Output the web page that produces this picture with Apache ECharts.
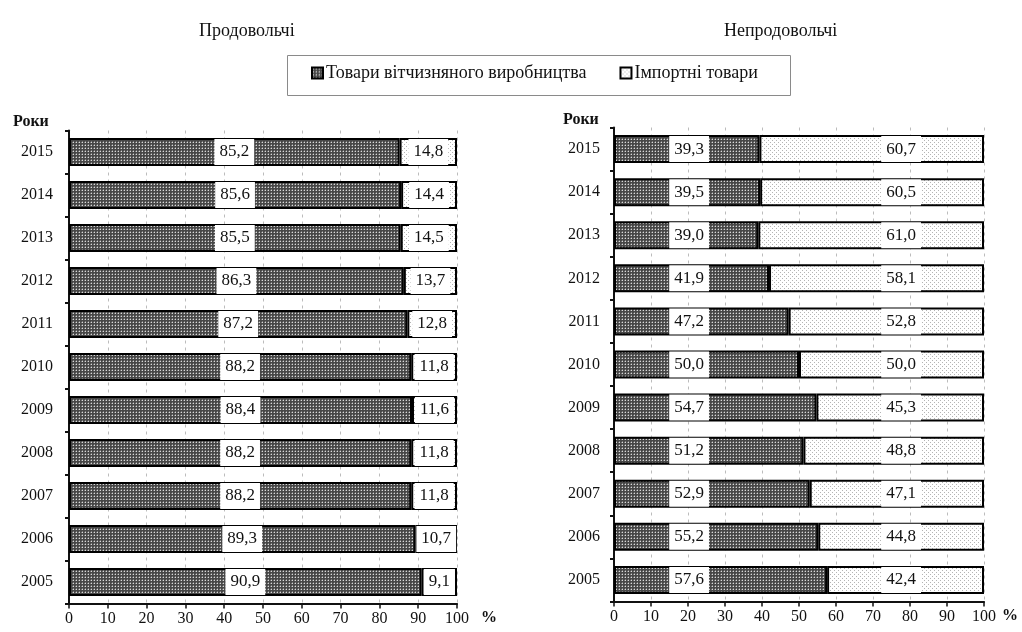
<!DOCTYPE html>
<html>
<head>
<meta charset="utf-8">
<script src="https://cdn.jsdelivr.net/npm/echarts@6/dist/echarts.min.js"></script>
<style>
  html, body { margin: 0; padding: 0; background: #fff; }
  #chart { width: 1022px; height: 632px; }
</style>
</head>
<body>
<div id="chart"></div>
<script>
// Years, bottom to top
const years = ['2005', '2006', '2007', '2008', '2009', '2010', '2011', '2012', '2013', '2014', '2015'];

// Food goods: share of domestic and imported products, %
const foodDomestic = [90.9, 89.3, 88.2, 88.2, 88.4, 88.2, 87.2, 86.3, 85.5, 85.6, 85.2];
const foodImport   = [9.1, 10.7, 11.8, 11.8, 11.6, 11.8, 12.8, 13.7, 14.5, 14.4, 14.8];

// Non-food goods: share of domestic and imported products, %
const nonFoodDomestic = [57.6, 55.2, 52.9, 51.2, 54.7, 50.0, 47.2, 41.9, 39.0, 39.5, 39.3];
const nonFoodImport   = [42.4, 44.8, 47.1, 48.8, 45.3, 50.0, 52.8, 58.1, 61.0, 60.5, 60.7];

const xTicks = [0, 10, 20, 30, 40, 50, 60, 70, 80, 90, 100];

const nameDomestic = 'Товари вітчизняного виробництва';
const nameImport = 'Імпортні товари';

const FONT = '"Liberation Serif", "DejaVu Serif", serif';
const INK = '#111';

// Fill textures
function makeTile(size, bg, dots) {
  const c = document.createElement('canvas');
  c.width = size; c.height = size;
  const g = c.getContext('2d');
  g.fillStyle = bg; g.fillRect(0, 0, size, size);
  dots.forEach(d => { g.fillStyle = d[2]; g.fillRect(d[0], d[1], 1, 1); });
  return c;
}
const darkTile = makeTile(3, '#474747', [[1, 1, '#d8d8d8'], [0, 1, '#7a7a7a'], [1, 0, '#7a7a7a']]);
const lightTile = makeTile(4, '#ffffff', [[0, 0, '#b4b4b4'], [2, 2, '#b4b4b4']]);
const darkFill = { image: darkTile, repeat: 'repeat' };
const lightFill = { image: lightTile, repeat: 'repeat' };

const fmt = v => v.toFixed(1).replace('.', ',');

const labelBox = {
  show: true,
  fontFamily: FONT,
  fontSize: 17,
  color: INK,
  backgroundColor: '#fff',
  padding: [1, 5],
  lineHeight: 24,
  formatter: p => fmt(p.value)
};

// Plot areas
const gridL = { left: 69, right: 565, top: 130.5, bottom: 28.5 };
const gridR = { left: 614, right: 38, top: 127.5, bottom: 30.5 };
const widthR = 1022 - gridR.left - gridR.right;
const pxR = widthR / 100;

// Labels of the right panel sit at fixed positions along the axis
const domAnchor = 20.3, impAnchor = 77.6;
const nonFoodDomData = nonFoodDomestic.map(v => ({
  value: v,
  label: { position: [domAnchor * pxR, '50%'], align: 'center', verticalAlign: 'middle' }
}));
const nonFoodImpData = nonFoodImport.map((v, i) => ({
  value: v,
  label: { position: [(impAnchor - nonFoodDomestic[i]) * pxR, '50%'], align: 'center', verticalAlign: 'middle' }
}));

function xAxis(gridIndex) {
  return {
    type: 'value', gridIndex, min: 0, max: 100, interval: 10,
    axisLine: { show: true, lineStyle: { color: INK, width: 2 } },
    axisTick: { show: true, length: 5, lineStyle: { color: INK, width: 1.5 } },
    axisLabel: { fontFamily: FONT, fontSize: 16, color: INK, margin: 7,
      formatter: v => xTicks.includes(v) ? String(v) : '' },
    splitLine: { show: true, lineStyle: { color: '#bcbcbc', type: [3, 4], width: 1 } }
  };
}
function yAxis(gridIndex, margin) {
  return {
    type: 'category', gridIndex, data: years,
    axisLine: { show: true, lineStyle: { color: INK, width: 2 } },
    axisTick: { show: true, length: 4, lineStyle: { color: INK, width: 2 } },
    axisLabel: { fontFamily: FONT, fontSize: 16, color: INK, margin }
  };
}

const barStyle = fill => ({ color: fill, borderColor: '#000', borderWidth: 2 });

const option = {
  backgroundColor: '#fff',
  animation: false,
  title: [
    { text: 'Продовольчі', left: 199, top: 22, padding: 0,
      textStyle: { fontFamily: FONT, fontSize: 18, fontWeight: 'normal', color: INK } },
    { text: 'Непродовольчі', left: 724, top: 22, padding: 0,
      textStyle: { fontFamily: FONT, fontSize: 18, fontWeight: 'normal', color: INK } },
    { text: 'Роки', left: 13, top: 114, padding: 0,
      textStyle: { fontFamily: FONT, fontSize: 16, fontWeight: 'bold', color: INK } },
    { text: 'Роки', left: 563, top: 112, padding: 0,
      textStyle: { fontFamily: FONT, fontSize: 16, fontWeight: 'bold', color: INK } },
    { text: '%', left: 481, top: 610, padding: 0,
      textStyle: { fontFamily: FONT, fontSize: 16, fontWeight: 'bold', color: INK } },
    { text: '%', left: 1002, top: 608, padding: 0,
      textStyle: { fontFamily: FONT, fontSize: 16, fontWeight: 'bold', color: INK } }
  ],
  // frame around the legend
  graphic: [{
    type: 'rect', z: 0,
    shape: { x: 287.5, y: 55.5, width: 503, height: 40 },
    style: { fill: 'none', stroke: '#8a8a8a', lineWidth: 1 }
  }],
  legend: {
    left: 306, top: 59,
    padding: [5, 5],
    itemWidth: 11, itemHeight: 11, itemGap: 33,
    icon: 'rect', selectedMode: false,
    data: [nameDomestic, nameImport],
    textStyle: { fontFamily: FONT, fontSize: 18, color: INK, padding: [0, 0, 0, -2] }
  },
  grid: [gridL, gridR],
  xAxis: [xAxis(0), xAxis(1)],
  yAxis: [yAxis(0, 16), yAxis(1, 14)],
  series: [
    { name: nameDomestic, type: 'bar', xAxisIndex: 0, yAxisIndex: 0, stack: 'food',
      barWidth: 28, itemStyle: barStyle(darkFill),
      label: Object.assign({}, labelBox, { position: 'inside' }),
      data: foodDomestic },
    { name: nameImport, type: 'bar', xAxisIndex: 0, yAxisIndex: 0, stack: 'food',
      barWidth: 28, itemStyle: barStyle(lightFill),
      label: Object.assign({}, labelBox, { position: 'inside' }),
      data: foodImport },
    { name: nameDomestic, type: 'bar', xAxisIndex: 1, yAxisIndex: 1, stack: 'nonfood',
      barWidth: 28, itemStyle: barStyle(darkFill),
      label: labelBox,
      data: nonFoodDomData },
    { name: nameImport, type: 'bar', xAxisIndex: 1, yAxisIndex: 1, stack: 'nonfood',
      barWidth: 28, itemStyle: barStyle(lightFill),
      label: labelBox,
      data: nonFoodImpData }
  ]
};

const chart = echarts.init(document.getElementById('chart'), null, { renderer: 'canvas' });
chart.setOption(option);
</script>
</body>
</html>
